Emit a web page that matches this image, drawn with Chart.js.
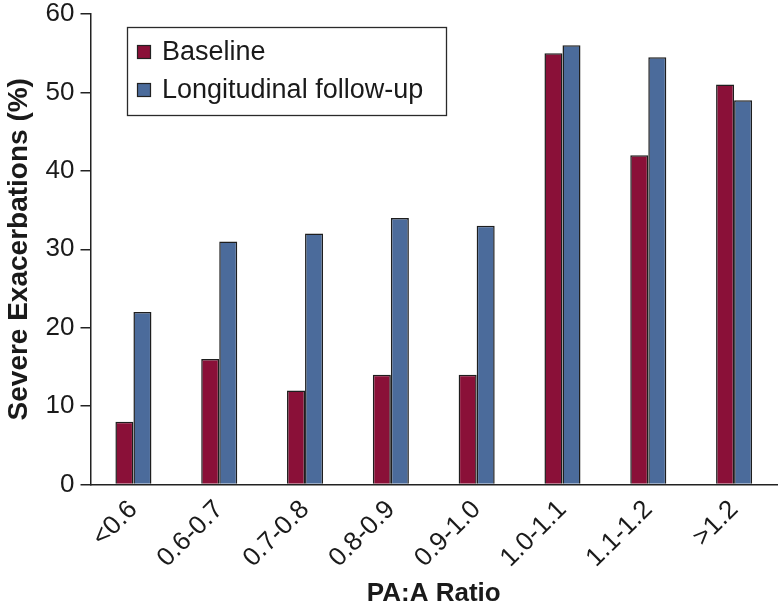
<!DOCTYPE html>
<html>
<head>
<meta charset="utf-8">
<script src="https://cdn.jsdelivr.net/npm/chart.js@4"></script>
<style>
  html, body { margin: 0; padding: 0; background: #fff; }
  #wrap { width: 778px; height: 609px; }
</style>
</head>
<body>
<div id="wrap"><canvas id="chart" width="778" height="609"></canvas></div>
<script>
const ratioLabels = ['<0.6', '0.6-0.7', '0.7-0.8', '0.8-0.9', '0.9-1.0', '1.0-1.1', '1.1-1.2', '>1.2'];
const baseline = [8, 16, 12, 14, 14, 55, 42, 51];
const followUp = [22, 31, 32, 34, 33, 56, 54.5, 49];
const yTicks = [0, 10, 20, 30, 40, 50, 60];

const fontFamily = '"Liberation Sans", Arial, Helvetica, sans-serif';

// legend drawn in a box inside the plot, top-left
const boxedLegend = {
    id: 'boxed_legend',
    afterDraw: (chart) => {
        const ctx = chart.ctx;
        const x = 127, y = 27, w = 319, h = 88;
        ctx.save();
        ctx.fillStyle = '#fff';
        ctx.fillRect(x, y, w, h);
        ctx.strokeStyle = '#2a2a2a';
        ctx.lineWidth = 1.3;
        ctx.strokeRect(x + 0.5, y + 0.5, w, h);
        ctx.font = '27px ' + fontFamily;
        ctx.textBaseline = 'middle';
        chart.data.datasets.forEach(function (ds, i) {
            const cy = y + 25 + i * 38;
            ctx.fillStyle = ds.backgroundColor;
            ctx.fillRect(x + 10, cy - 7, 14, 14);
            ctx.lineWidth = 1.2;
            ctx.strokeStyle = '#222';
            ctx.strokeRect(x + 10.5, cy - 6.5, 13, 13);
            ctx.fillStyle = '#1a1a1a';
            ctx.fillText(ds.label, x + 35, cy + 1);
        });
        ctx.restore();
    }
};

const data = {
    labels: ratioLabels,
    datasets: [
        {
            label: 'Baseline',
            data: baseline,
            backgroundColor: '#8a1038',
            borderColor: '#1e1e1e',
            borderWidth: 1.5
        },
        {
            label: 'Longitudinal follow-up',
            data: followUp,
            backgroundColor: '#4b6b9b',
            borderColor: '#1e1e1e',
            borderWidth: 1.5
        }
    ]
};

const config = {
    type: 'bar',
    data: data,
    options: {
        responsive: false,
        animation: false,
        categoryPercentage: 0.42,
        barPercentage: 1.0,
        plugins: {
            legend: { display: false },
            tooltip: { enabled: false }
        },
        scales: {
            x: {
                border: { color: '#222', width: 1.5 },
                grid: { display: false },
                ticks: {
                    color: '#1a1a1a',
                    font: { size: 26, family: fontFamily },
                    minRotation: 45,
                    maxRotation: 45,
                    padding: 2
                },
                title: {
                    display: true,
                    text: 'PA:A Ratio',
                    color: '#1a1a1a',
                    font: { size: 26, weight: 'bold', family: fontFamily },
                    padding: { top: 2, bottom: 0 }
                }
            },
            y: {
                min: 0,
                max: 60,
                afterBuildTicks: function (scale) {
                    scale.ticks = yTicks.map(function (v) { return { value: v }; });
                },
                afterFit: function (scale) {
                    // let the top tick label overhang the plot area
                    scale.paddingTop = 0;
                },
                border: { color: '#222', width: 1.5 },
                grid: {
                    drawOnChartArea: false,
                    drawTicks: true,
                    tickLength: 10,
                    color: '#222',
                    lineWidth: 1.5
                },
                ticks: {
                    color: '#1a1a1a',
                    font: { size: 26, family: fontFamily },
                    padding: 6
                },
                title: {
                    display: true,
                    text: 'Severe Exacerbations (%)',
                    color: '#1a1a1a',
                    font: { size: 28, weight: 'bold', family: fontFamily },
                    padding: { top: 0, bottom: 4 }
                }
            }
        },
        layout: {
            padding: { top: 14, right: 1, bottom: 0, left: 2 }
        }
    },
    plugins: [boxedLegend]
};

let chart = new Chart(document.getElementById('chart'), config);
</script>
</body>
</html>
